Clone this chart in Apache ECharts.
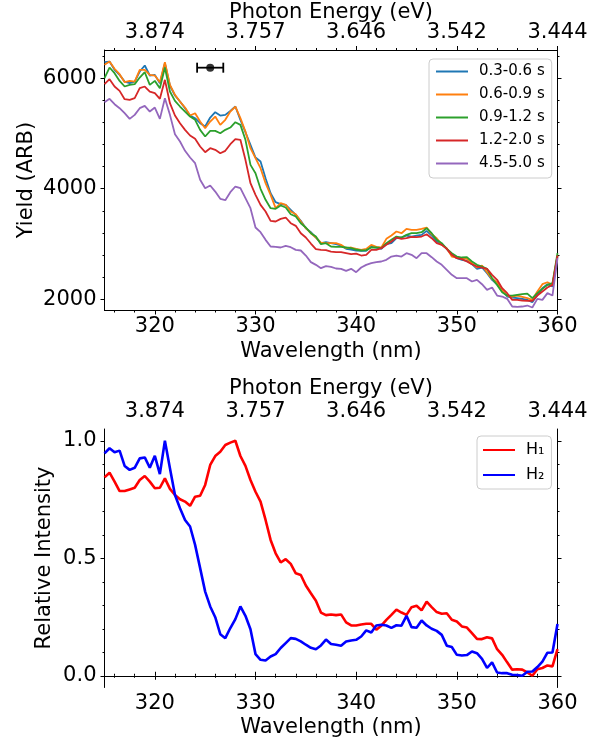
<!DOCTYPE html>
<html>
<head>
<meta charset="utf-8">
<script src="https://cdn.jsdelivr.net/npm/echarts@6/dist/echarts.min.js"></script>
<style>
  html, body { margin: 0; padding: 0; background: #fff; }
  #chart { width: 605px; height: 747px; }
</style>
</head>
<body>
<div id="chart"></div>
<script>
// Sample wavelengths (nm), 0.5 nm step
const wavelengthNm = [
  315, 315.5, 316, 316.5, 317, 317.5, 318, 318.5, 319, 319.5,
  320, 320.5, 321, 321.5, 322, 322.5, 323, 323.5, 324, 324.5,
  325, 325.5, 326, 326.5, 327, 327.5, 328, 328.5, 329, 329.5,
  330, 330.5, 331, 331.5, 332, 332.5, 333, 333.5, 334, 334.5,
  335, 335.5, 336, 336.5, 337, 337.5, 338, 338.5, 339, 339.5,
  340, 340.5, 341, 341.5, 342, 342.5, 343, 343.5, 344, 344.5,
  345, 345.5, 346, 346.5, 347, 347.5, 348, 348.5, 349, 349.5,
  350, 350.5, 351, 351.5, 352, 352.5, 353, 353.5, 354, 354.5,
  355, 355.5, 356, 356.5, 357, 357.5, 358, 358.5, 359, 359.5, 360
];

// Yield (ARB) for each delay window
const yield03to06 = [
  6289, 6301, 6151, 6060, 5939, 5909, 5939, 6120, 6229, 6048, 6060, 5909, 6271, 5867, 5686, 5577,
  5457, 5324, 5276, 5185, 5125, 5288, 5384, 5324, 5336, 5408, 5487, 5246, 5022, 4793, 4564, 4491,
  4190, 3918, 3755, 3719, 3707, 3617, 3526, 3418, 3285, 3213, 3116, 3013, 3031, 3013, 2995,
  2971, 2911, 2899, 2881, 2875, 2875, 2953, 2935, 2911, 2995, 3013, 3104, 3116, 3152, 3134, 3152,
  3164, 3237, 3152, 3044, 2995, 2911, 2802, 2742, 2712, 2694, 2633, 2549, 2573, 2470, 2350, 2271,
  2151, 2048, 2030, 2018, 2006, 1988, 1946, 2078, 2199, 2271, 2229, 2772
];
const yield06to09 = [
  6241, 6301, 6169, 6072, 5927, 5951, 5939, 6151, 6151, 6060, 6048, 5927, 6289, 5879, 5698, 5577,
  5469, 5324, 5366, 5215, 5095, 5215, 5306, 5155, 5246, 5396, 5487, 5276, 5034, 4733, 4552, 4371,
  4099, 3888, 3647, 3737, 3707, 3587, 3538, 3406, 3285, 3194, 3116, 3025, 3013, 3013, 3013,
  2983, 2923, 2935, 2911, 2893, 2911, 2983, 2947, 2935, 3092, 3152, 3225, 3194, 3273, 3255, 3255,
  3273, 3297, 3176, 3104, 2983, 2923, 2772, 2754, 2742, 2730, 2651, 2573, 2609, 2488, 2368, 2307,
  2169, 2066, 2048, 2066, 2042, 2018, 1988, 2139, 2271, 2307, 2259, 2790
];
const yield09to12 = [
  6000, 6193, 6090, 5951, 5849, 5879, 5891, 6012, 6108, 5879, 5951, 5819, 6193, 5758, 5589, 5487,
  5396, 5306, 5246, 5065, 4944, 5047, 5047, 5004, 5065, 5107, 5203, 5155, 4884, 4431, 4280, 3997,
  3798, 3647, 3635, 3695, 3659, 3538, 3496, 3375, 3297, 3194, 3134, 2995, 3013, 2953, 2947,
  2947, 2935, 2923, 2899, 2881, 2887, 2935, 2935, 2923, 3013, 3074, 3134, 3116, 3164, 3194, 3194,
  3212, 3285, 3194, 3074, 3013, 2911, 2832, 2772, 2754, 2760, 2682, 2621, 2591, 2549, 2380, 2259,
  2127, 2066, 2066, 2078, 2090, 2102, 2018, 2108, 2187, 2259, 2289, 2832
];
const yield12to20 = [
  5891, 5982, 5849, 5770, 5620, 5608, 5638, 5819, 5849, 5758, 5728, 5626, 5970, 5547, 5324, 5185,
  5065, 4962, 4902, 4763, 4660, 4733, 4703, 4642, 4685, 4805, 4896, 4884, 4522, 4099, 3888, 3707,
  3587, 3418, 3406, 3454, 3478, 3375, 3327, 3194, 3116, 3007, 2905, 2893, 2887, 2862, 2850,
  2850, 2832, 2814, 2826, 2790, 2802, 2893, 2893, 2923, 2983, 3044, 3116, 3092, 3104, 3128, 3122,
  3134, 3176, 3104, 3013, 2983, 2911, 2802, 2742, 2724, 2682, 2633, 2591, 2573, 2549, 2440, 2350,
  2199, 2108, 1988, 1988, 1976, 1970, 1970, 2066, 2139, 2211, 2259, 2790
];
const yield45to50 = [
  5565, 5626, 5529, 5457, 5366, 5264, 5336, 5457, 5499, 5396, 5469, 5264, 5638, 5336, 4986, 4853,
  4685, 4564, 4461, 4160, 4009, 4057, 3948, 3816, 3792, 3936, 4039, 4009, 3828, 3647, 3297, 3213,
  3074, 2953, 2947, 2935, 2965, 2941, 2893, 2881, 2790, 2670, 2621, 2561, 2597, 2585, 2555,
  2549, 2513, 2549, 2488, 2573, 2621, 2651, 2670, 2682, 2712, 2772, 2790, 2772, 2832, 2802, 2742,
  2832, 2832, 2760, 2682, 2621, 2531, 2440, 2380, 2380, 2380, 2320, 2350, 2271, 2169, 2211, 2066,
  2048, 2006, 1867, 1861, 1867, 1885, 1849, 2006, 1988, 2109, 2066, 2742
];

// Relative intensity of the two components
const relativeH1 = [
  0.844, 0.864, 0.826, 0.786, 0.786, 0.793, 0.800, 0.833, 0.850, 0.826, 0.798, 0.800, 0.840, 0.795,
  0.769, 0.751, 0.741, 0.723, 0.762, 0.766, 0.812, 0.897, 0.935, 0.953, 0.982, 0.992, 1.000, 0.935,
  0.893, 0.833, 0.783, 0.741, 0.663, 0.578, 0.521, 0.482, 0.496, 0.476, 0.436, 0.429, 0.384, 0.351,
  0.319, 0.269, 0.258, 0.261, 0.258,
  0.261, 0.227, 0.214, 0.214, 0.218, 0.221, 0.221, 0.196, 0.213, 0.238, 0.259, 0.281, 0.269, 0.259,
  0.292, 0.298, 0.278, 0.315, 0.292, 0.271, 0.264, 0.266, 0.238, 0.231, 0.210, 0.205, 0.181, 0.157,
  0.156, 0.164, 0.159, 0.113, 0.089, 0.057, 0.026, 0.028, 0.026, 0.014, 0.000, 0.028, 0.033, 0.044,
  0.040, 0.113
];
const relativeH2 = [
  0.946, 0.968, 0.951, 0.958, 0.893, 0.876, 0.885, 0.925, 0.929, 0.885, 0.936, 0.858, 1.000, 0.883,
  0.769, 0.713, 0.663, 0.635, 0.557, 0.458, 0.358, 0.295, 0.249, 0.177, 0.160, 0.203, 0.241, 0.295,
  0.255, 0.198, 0.092, 0.068, 0.065, 0.082, 0.092, 0.118, 0.139, 0.160, 0.157, 0.146, 0.132, 0.119,
  0.113, 0.129, 0.154, 0.135, 0.132,
  0.128, 0.146, 0.150, 0.153, 0.167, 0.193, 0.184, 0.214, 0.217, 0.214, 0.204, 0.215, 0.213, 0.255,
  0.207, 0.204, 0.235, 0.214, 0.200, 0.191, 0.174, 0.128, 0.122, 0.089, 0.086, 0.088, 0.103, 0.096,
  0.072, 0.033, 0.057, 0.014, 0.011, 0.011, 0.004, 0.003, 0.000, 0.017, 0.018, 0.037, 0.060, 0.098,
  0.099, 0.220
];

// Series names
const yieldNames = ['0.3-0.6 s', '0.6-0.9 s', '0.9-1.2 s', '1.2-2.0 s', '4.5-5.0 s'];
const relativeNames = ['H\u2081', 'H\u2082'];

// Spectral resolution marker (centre wavelength, yield, half width in nm)
const resolutionX = [325.5];
const resolutionY = [6190];
const resolutionHalfWidth = [1.3];

// Tick positions and labels
const wavelengthMajor = [320, 330, 340, 350, 360];
const wavelengthMinor = [316, 318, 322, 324, 326, 328, 332, 334, 336, 338, 342, 344, 346, 348, 352, 354, 356, 358];
const energyTickLabels = ['3.874', '3.757', '3.646', '3.542', '3.444'];
const yieldMajor = [2000, 4000, 6000];
const yieldMinor = [2400, 2800, 3200, 3600, 4400, 4800, 5200, 5600, 6400];
const relMajor = [0, 0.5, 1.0];
const relMinor = [0.1, 0.2, 0.3, 0.4, 0.6, 0.7, 0.8, 0.9];

const FONT = 'DejaVu Sans';
const tab10 = ['#1f77b4', '#ff7f0e', '#2ca02c', '#d62728', '#9467bd'];

const chart = echarts.init(document.getElementById('chart'), null, { renderer: 'canvas' });

function pairs(ys) {
  return wavelengthNm.map((x, i) => [x, ys[i]]);
}

function axisFont() {
  return { fontFamily: FONT, fontSize: 21, color: '#000' };
}

// Four x axes per panel: wavelength (bottom, major + minor ticks) and photon energy (top, major + minor)
function makeXAxes(gridIndex) {
  const base = { gridIndex, type: 'value', min: 315, max: 360, splitLine: { show: false } };
  return [
    Object.assign({}, base, {
      position: 'bottom',
      axisLine: { show: true, lineStyle: { color: '#000', width: 1 } },
      axisTick: { show: true, length: 4, customValues: wavelengthMajor, lineStyle: { color: '#000', width: 1 } },
      axisLabel: Object.assign({ show: true, customValues: wavelengthMajor, margin: 6 }, axisFont())
    }),
    Object.assign({}, base, {
      position: 'bottom',
      axisLine: { show: false },
      axisTick: { show: true, length: 2, customValues: wavelengthMinor, lineStyle: { color: '#000', width: 1 } },
      axisLabel: { show: false }
    }),
    Object.assign({}, base, {
      position: 'top',
      axisLine: { show: true, lineStyle: { color: '#000', width: 1 } },
      axisTick: { show: true, length: 4, customValues: wavelengthMajor, lineStyle: { color: '#000', width: 1 } },
      axisLabel: Object.assign({
        show: true, customValues: wavelengthMajor, margin: 7,
        formatter: (v) => energyTickLabels[wavelengthMajor.indexOf(Math.round(v))]
      }, axisFont())
    }),
    Object.assign({}, base, {
      position: 'top',
      axisLine: { show: false },
      axisTick: { show: true, length: 2, customValues: wavelengthMinor, lineStyle: { color: '#000', width: 1 } },
      axisLabel: { show: false }
    })
  ];
}

function makeYAxes(gridIndex, min, max, major, minor, fmt) {
  const base = { gridIndex, type: 'value', min, max, splitLine: { show: false } };
  return [
    Object.assign({}, base, {
      position: 'left',
      axisLine: { show: true, lineStyle: { color: '#000', width: 1 } },
      axisTick: { show: true, length: 4, customValues: major, lineStyle: { color: '#000', width: 1 } },
      axisLabel: Object.assign({ show: true, customValues: major, margin: 8, formatter: fmt }, axisFont())
    }),
    Object.assign({}, base, {
      position: 'left',
      axisLine: { show: false },
      axisTick: { show: true, length: 2, customValues: minor, lineStyle: { color: '#000', width: 1 } },
      axisLabel: { show: false }
    }),
    Object.assign({}, base, {
      position: 'right',
      axisLine: { show: true, lineStyle: { color: '#000', width: 1 } },
      axisTick: { show: true, length: 4, customValues: major, lineStyle: { color: '#000', width: 1 } },
      axisLabel: { show: false }
    }),
    Object.assign({}, base, {
      position: 'right',
      axisLine: { show: false },
      axisTick: { show: true, length: 2, customValues: minor, lineStyle: { color: '#000', width: 1 } },
      axisLabel: { show: false }
    })
  ];
}

const yieldSeriesData = [yield03to06, yield06to09, yield09to12, yield12to20, yield45to50];

const series = [];
yieldSeriesData.forEach((ys, i) => {
  series.push({
    name: yieldNames[i], type: 'line', xAxisIndex: 0, yAxisIndex: 0,
    data: pairs(ys), symbol: 'none', smooth: false,
    lineStyle: { color: tab10[i], width: 1.8 }, itemStyle: { color: tab10[i] },
    z: 2 + i
  });
});

// Horizontal error bar with caps for the resolution marker
series.push({
  type: 'custom', xAxisIndex: 0, yAxisIndex: 0, z: 10,
  data: resolutionX.map((x, i) => [x, resolutionY[i], resolutionHalfWidth[i]]),
  renderItem: (params, api) => {
    const x = api.value(0), y = api.value(1), h = api.value(2);
    const l = api.coord([x - h, y]);
    const r = api.coord([x + h, y]);
    const st = { stroke: '#000', lineWidth: 1.8 };
    return {
      type: 'group',
      children: [
        { type: 'line', shape: { x1: l[0], y1: l[1], x2: r[0], y2: r[1] }, style: st },
        { type: 'line', shape: { x1: l[0], y1: l[1] - 5, x2: l[0], y2: l[1] + 5 }, style: st },
        { type: 'line', shape: { x1: r[0], y1: r[1] - 5, x2: r[0], y2: r[1] + 5 }, style: st }
      ]
    };
  }
});
series.push({
  type: 'scatter', xAxisIndex: 0, yAxisIndex: 0, z: 11,
  data: resolutionX.map((x, i) => [x, resolutionY[i]]),
  symbol: 'circle', symbolSize: 8, itemStyle: { color: '#000' }
});

series.push({
  name: relativeNames[0], type: 'line', xAxisIndex: 4, yAxisIndex: 4,
  data: pairs(relativeH1), symbol: 'none',
  lineStyle: { color: '#ff0000', width: 2.6 }, itemStyle: { color: '#ff0000' }, z: 3
});
series.push({
  name: relativeNames[1], type: 'line', xAxisIndex: 4, yAxisIndex: 4,
  data: pairs(relativeH2), symbol: 'none',
  lineStyle: { color: '#0000ff', width: 2.6 }, itemStyle: { color: '#0000ff' }, z: 4
});

function titleText(x, y, text, rotation) {
  return {
    type: 'text', x, y, rotation: rotation || 0,
    style: { text, fontFamily: FONT, fontSize: 21, fill: '#000', align: 'center', verticalAlign: 'middle' }
  };
}

// Legends show only the line sample (symbol hidden)
const legendCommon = {
  orient: 'vertical',
  itemWidth: 32, itemHeight: 14,
  itemStyle: { opacity: 0 },
  backgroundColor: 'rgba(255,255,255,0.8)',
  borderColor: '#cccccc', borderWidth: 1, borderRadius: 4,
  textStyle: { fontFamily: FONT, fontSize: 15, color: '#000', padding: [0, 0, 0, 6] },
  selectedMode: false
};

const option = {
  animation: false,
  backgroundColor: '#fff',
  grid: [
    { left: 104.5, top: 50, width: 453, height: 260.5 },
    { left: 104.5, top: 429, width: 453, height: 258.5 }
  ],
  xAxis: makeXAxes(0).concat(makeXAxes(1)),
  yAxis: makeYAxes(0, 1795, 6510, yieldMajor, yieldMinor, (v) => String(v))
    .concat(makeYAxes(1, -0.05, 1.05, relMajor, relMinor, (v) => v.toFixed(1))),
  legend: [
    Object.assign({}, legendCommon, {
      data: yieldNames, left: 429, top: 59, itemGap: 8, padding: [5, 7, 7, 6]
    }),
    Object.assign({}, legendCommon, {
      data: relativeNames, left: 477, top: 436, itemGap: 9, padding: [6, 7, 6, 5],
      textStyle: { fontFamily: FONT, fontSize: 16, color: '#000', padding: [0, 0, 0, 6] }
    })
  ],
  graphic: [
    titleText(331, 13, 'Photon Energy (eV)'),
    titleText(331, 352, 'Wavelength (nm)'),
    titleText(27, 180, 'Yield (ARB)', Math.PI / 2),
    titleText(331, 389, 'Photon Energy (eV)'),
    titleText(331, 728, 'Wavelength (nm)'),
    titleText(45, 558, 'Relative Intensity', Math.PI / 2)
  ],
  series
};

chart.setOption(option);
</script>
</body>
</html>
